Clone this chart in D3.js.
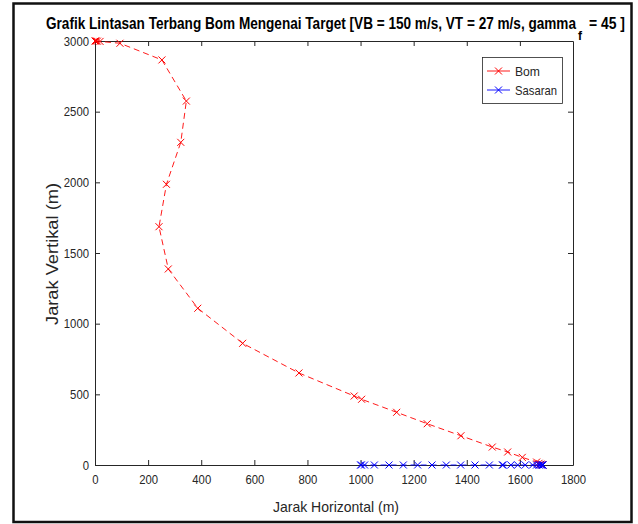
<!DOCTYPE html>
<html>
<head>
<meta charset="utf-8">
<script src="https://cdn.jsdelivr.net/npm/d3@7"></script>
<style>
  html, body { margin: 0; padding: 0; background: #fff; }
  svg text { font-family: "Liberation Sans Narrow", "Arial Narrow", "Liberation Sans", sans-serif; }
</style>
</head>
<body>
<svg id="chart" width="638" height="524"></svg>
<script>
// Bomb trajectory (horizontal, vertical distance in metres)
const bomX = [0, 4, 9, 19, 94, 252, 344, 323, 269, 241, 276, 387, 556, 768, 976, 1004, 1136, 1251, 1378, 1496, 1554, 1609, 1663, 1672, 1679, 1684, 1687];
const bomY = [3000, 3000, 2999, 2997, 2984, 2866, 2575, 2283, 1986, 1686, 1387, 1109, 861, 651, 488, 465, 373, 292, 207, 127, 92, 54, 21, 12, 6, 2, 0];

// Target moving along the ground
const sasaranX = [1000, 1003, 1015, 1052, 1107, 1161, 1215, 1269, 1323, 1377, 1431, 1485, 1534, 1537, 1566, 1592, 1620, 1648, 1663, 1672, 1678, 1682, 1685, 1687];
const sasaranY = [0, 0, 0, 0, 0, 0, 0, 0, 0, 0, 0, 0, 0, 0, 0, 0, 0, 0, 0, 0, 0, 0, 0, 0];

const xTicks = [0, 200, 400, 600, 800, 1000, 1200, 1400, 1600, 1800];
const yTicks = [0, 500, 1000, 1500, 2000, 2500, 3000];

const seriesNames = ["Bom", "Sasaran"];
const seriesColors = ["#ff0000", "#0000ff"];

const titleMain = "Grafik Lintasan Terbang Bom Mengenai Target [VB = 150 m/s, VT = 27 m/s, gamma";
const titleSub = "f";
const titleEnd = "= 45 ]";
const xLabel = "Jarak Horizontal (m)";
const yLabel = "Jarak Vertikal (m)";

const svg = d3.select("#chart");
const plot = { left: 95, top: 41, right: 573, bottom: 465 };

// outer figure frame
svg.append("rect")
  .attr("x", 13.5).attr("y", 3.5)
  .attr("width", 618).attr("height", 518.5)
  .attr("fill", "none").attr("stroke", "#111").attr("stroke-width", 2.5);

const x = d3.scaleLinear().domain([0, 1800]).range([plot.left, plot.right]);
const y = d3.scaleLinear().domain([0, 3000]).range([plot.bottom, plot.top]);

const axisColor = "#262626";
const tickLen = 5;
const fmt = d3.format("d");

// bottom axis
const gx = svg.append("g").attr("transform", `translate(0,${plot.bottom})`)
  .call(d3.axisBottom(x).tickValues(xTicks).tickFormat(fmt).tickSizeInner(-tickLen).tickSizeOuter(0).tickPadding(10));
// top axis (ticks only)
const gxt = svg.append("g").attr("transform", `translate(0,${plot.top})`)
  .call(d3.axisTop(x).tickValues(xTicks).tickSizeInner(-tickLen).tickSizeOuter(0).tickFormat(""));
// left axis
const gy = svg.append("g").attr("transform", `translate(${plot.left},0)`)
  .call(d3.axisLeft(y).tickValues(yTicks).tickFormat(fmt).tickSizeInner(-tickLen).tickSizeOuter(0).tickPadding(6));
// right axis (ticks only)
const gyr = svg.append("g").attr("transform", `translate(${plot.right},0)`)
  .call(d3.axisRight(y).tickValues(yTicks).tickSizeInner(-tickLen).tickSizeOuter(0).tickFormat(""));

[gx, gxt, gy, gyr].forEach(g => {
  g.select(".domain").attr("stroke", axisColor).attr("stroke-width", 1);
  g.selectAll(".tick line").attr("stroke", axisColor).attr("stroke-width", 1);
  g.selectAll(".tick text").attr("fill", axisColor)
    .style("font-size", "13px")
    .style("font-family", "'Liberation Sans Narrow', 'Arial Narrow', 'Liberation Sans', sans-serif")
    .each(function () {
      // condensed digits
      const n = this.textContent.length;
      d3.select(this).attr("textLength", n * 6.3).attr("lengthAdjust", "spacingAndGlyphs");
    });
});
gx.selectAll(".tick line").filter(d => d === 0).remove();
gxt.selectAll(".tick line").filter(d => d === 0 || d === 1800).remove();

const marker = (g, cx, cy, color, r) => {
  g.append("path")
    .attr("d", `M${cx - r},${cy - r}L${cx + r},${cy + r}M${cx - r},${cy + r}L${cx + r},${cy - r}`)
    .attr("stroke", color).attr("stroke-width", 1).attr("fill", "none");
};

const line = d3.line().x(d => x(d[0])).y(d => y(d[1]));
const datasets = [
  d3.zip(bomX, bomY),
  d3.zip(sasaranX, sasaranY)
];

datasets.forEach((data, i) => {
  const g = svg.append("g");
  g.append("path").datum(data)
    .attr("d", line)
    .attr("fill", "none")
    .attr("stroke", seriesColors[i])
    .attr("stroke-width", 0.9)
    .attr("stroke-dasharray", "6,4");
  data.forEach(d => marker(g, x(d[0]), y(d[1]), seriesColors[i], 3.5));
});

// title, with subscript f
const titleStyle = sel => sel.attr("fill", "#000").style("font-weight", "bold");
titleStyle(svg.append("text"))
  .attr("x", 46).attr("y", 29)
  .style("font-size", "16px")
  .attr("textLength", 530).attr("lengthAdjust", "spacingAndGlyphs")
  .text(titleMain);
titleStyle(svg.append("text"))
  .attr("x", 578).attr("y", 40)
  .style("font-size", "12px")
  .text(titleSub);
titleStyle(svg.append("text"))
  .attr("x", 589).attr("y", 29)
  .style("font-size", "16px")
  .attr("textLength", 36).attr("lengthAdjust", "spacingAndGlyphs")
  .text(titleEnd);

// axis labels
svg.append("text")
  .attr("x", 336).attr("y", 512)
  .attr("text-anchor", "middle")
  .attr("fill", axisColor)
  .style("font-size", "15px")
  .attr("textLength", 126).attr("lengthAdjust", "spacingAndGlyphs")
  .text(xLabel);

svg.append("text")
  .attr("transform", `translate(58,254) rotate(-90)`)
  .attr("text-anchor", "middle")
  .attr("fill", axisColor)
  .style("font-size", "16px")
  .style("font-family", "'Liberation Sans', Arial, sans-serif")
  .attr("textLength", 142).attr("lengthAdjust", "spacingAndGlyphs")
  .text(yLabel);

// legend
const lg = svg.append("g");
lg.append("rect")
  .attr("x", 482.5).attr("y", 57.5).attr("width", 80).attr("height", 46)
  .attr("fill", "#fff").attr("stroke", axisColor).attr("stroke-width", 0.8);
const legendWidths = [25, 42];
seriesNames.forEach((name, i) => {
  const cy = 71 + i * 19;
  lg.append("line")
    .attr("x1", 487).attr("x2", 510).attr("y1", cy).attr("y2", cy)
    .attr("stroke", seriesColors[i]).attr("stroke-width", 0.9);
  marker(lg, 498.5, cy, seriesColors[i], 3.5);
  lg.append("text")
    .attr("x", 515).attr("y", cy + 4.5)
    .attr("fill", axisColor)
    .style("font-size", "13.5px")
    .attr("textLength", legendWidths[i]).attr("lengthAdjust", "spacingAndGlyphs")
    .text(name);
});
</script>
</body>
</html>
